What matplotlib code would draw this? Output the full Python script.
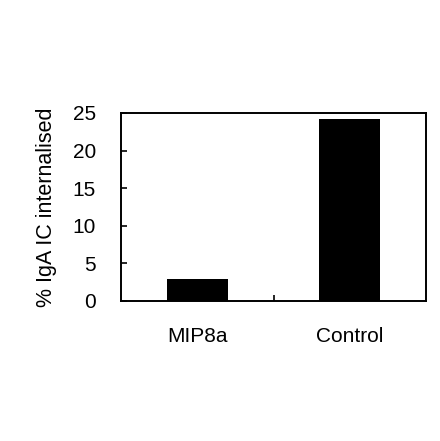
import matplotlib
matplotlib.use("Agg")
import matplotlib.pyplot as plt

# data
categories = ["MIP8a", "Control"]
values = [2.9, 24.2]
y_ticks = [0, 5, 10, 15, 20, 25]

plt.rcParams.update({
    "font.family": ["Liberation Sans", "DejaVu Sans"],
    "font.size": 15,
})

fig = plt.figure(figsize=(4.4, 4.41), dpi=100)
ax = fig.add_axes([121 / 440, 1 - 301 / 441, (426 - 121) / 440, (301 - 113) / 441])

x = list(range(len(categories)))
ax.bar(x, values, width=0.4, color="black")

ax.set_xlim(-0.5, 1.5)
ax.set_ylim(0, 25)
ax.set_yticks(y_ticks)

ax.set_xticks(x)
ax.set_xticklabels(categories)
ax.set_xticks([0.5], minor=True)
ax.tick_params(axis="x", which="major", length=0, pad=19)
ax.tick_params(axis="x", which="minor", direction="in", length=4, width=1.2)
ax.tick_params(axis="y", direction="in", length=4, width=1.2, pad=18)

for s in ax.spines.values():
    s.set_linewidth(1.4)

ax.set_ylabel("% IgA IC internalised", fontsize=15.5, labelpad=11)

fig.savefig("out.png", dpi=100)
